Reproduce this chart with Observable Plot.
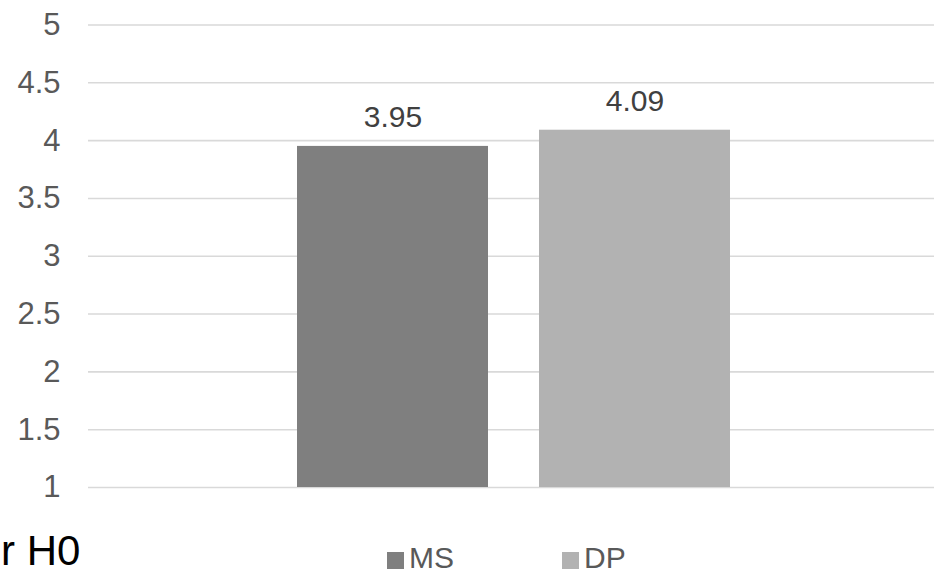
<!DOCTYPE html>
<html>
<head>
<meta charset="utf-8">
<script src="https://cdn.jsdelivr.net/npm/d3@7"></script>
<script src="https://cdn.jsdelivr.net/npm/@observablehq/plot@0.6"></script>
<style>
  html, body { margin: 0; padding: 0; background: #fff; }
  #wrap { position: relative; width: 934px; height: 575px; overflow: hidden; font-family: "Liberation Sans", Arial, sans-serif; }
  #legend { position: absolute; left: 0; top: 544px; width: 934px; height: 28px; }
  .item { position: absolute; top: 0; display: flex; align-items: center; font-size: 30px; color: #595959; line-height: 28px; }
  .sw { width: 17px; height: 17px; margin-right: 5px; margin-top: 4px; }
  #note { position: absolute; left: 1px; top: 529px; font-size: 42px; color: #000; line-height: 44px; white-space: nowrap; }
</style>
</head>
<body>
<div id="wrap">
  <div id="chart"></div>
  <div id="legend"></div>
  <div id="note">r H0</div>
</div>
<script>
const categories = ["MS", "DP"];
const values = [3.95, 4.09];
const colors = ["#7f7f7f", "#b2b2b2"];
const yTicks = [1, 1.5, 2, 2.5, 3, 3.5, 4, 4.5, 5];

const data = categories.map((c, i) => ({cat: c, value: values[i]}));

const chart = Plot.plot({
  width: 934,
  height: 510,
  marginLeft: 88,
  marginRight: 0,
  marginTop: 24.5,
  marginBottom: 23,
  x: {domain: categories, paddingInner: 0.21, paddingOuter: 0.852, align: 0.507, axis: null},
  y: {domain: [1, 5], axis: null},
  color: {domain: categories, range: colors},
  style: {fontFamily: "'Liberation Sans', Arial, sans-serif", fontSize: "30px", background: "#fff"},
  marks: [
    Plot.ruleY(yTicks, {stroke: "#d9d9d9", strokeWidth: 1.6}),
    Plot.barY(data, {x: "cat", y1: 1, y2: "value", fill: "cat"}),
    Plot.text(data, {x: "cat", y: "value", text: d => d.value.toFixed(2), dy: -19, lineAnchor: "bottom", fill: "#404040", fontSize: 30}),
    Plot.axisY({ticks: yTicks, tickFormat: d => String(d), tickSize: 0, tickPadding: 28, fontSize: 31, fill: "#595959", label: null})
  ]
});
document.getElementById("chart").appendChild(chart);

const legend = document.getElementById("legend");
const legendLeft = [387, 562];
categories.forEach((c, i) => {
  const item = document.createElement("div");
  item.className = "item";
  item.style.left = legendLeft[i] + "px";
  const sw = document.createElement("span");
  sw.className = "sw";
  sw.style.background = colors[i];
  const t = document.createElement("span");
  t.textContent = c;
  item.appendChild(sw);
  item.appendChild(t);
  legend.appendChild(item);
});
</script>
</body>
</html>
